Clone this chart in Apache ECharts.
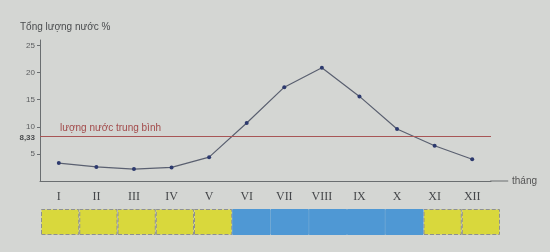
<!DOCTYPE html>
<html><head><meta charset="utf-8">
<script src="https://cdn.jsdelivr.net/npm/echarts@6/dist/echarts.min.js"></script>
<style>html,body{margin:0;padding:0;background:#d4d6d3}#c{width:550px;height:252px}</style>
</head><body><div id="c"></div>
<script>
var months = ['I','II','III','IV','V','VI','VII','VIII','IX','X','XI','XII'];
var waterPct = [3.3, 2.6, 2.2, 2.5, 4.4, 10.7, 17.3, 20.9, 15.6, 9.6, 6.5, 4.0];
var average = 8.33;
var yTickLabels = [5, 10, 15, 20, 25];
var seasonFlood = [0,0,0,0,0,1,1,1,1,1,0,0]; // 1 = mùa lũ (blue), 0 = mùa cạn (yellow)

var chart = echarts.init(document.getElementById('c'));
var bandData = seasonFlood.map(function(s){
  return {value:1, itemStyle: s
    ? {color:'#4f98d4', borderColor:'#4f98d4', borderWidth:1, borderType:'solid'}
    : {color:'#d9d83c', borderColor:'#8e9090', borderWidth:1, borderType:'dashed'}};
});
chart.setOption({
  backgroundColor:'#d4d6d3',
  animation:false,
  title:{text:'Tổng lượng nước %', left:15, top:17,
    textStyle:{fontFamily:'Liberation Sans', fontSize:10, fontWeight:'normal', color:'#4a4c4e'}},
  grid:[
    {left:40, right:59, top:40, bottom:71},
    {left:41, right:50, top:209, height:26}
  ],
  xAxis:[
    {type:'category', gridIndex:0, data:months, boundaryGap:true,
     name:'tháng', nameLocation:'end', nameGap:21,
     nameTextStyle:{fontFamily:'Liberation Sans', fontSize:10, color:'#555'},
     axisLine:{lineStyle:{color:'#6a6e70', width:1}},
     axisTick:{inside:true, length:3, lineStyle:{color:'#6a6e70'}},
     axisLabel:{margin:10, fontFamily:'Liberation Serif', fontSize:12, color:'#45474a'}},
    {type:'category', gridIndex:1, data:months, show:false}
  ],
  yAxis:[
    {type:'value', gridIndex:0, min:0, max:26,
     splitLine:{show:false},
     axisLine:{show:true, lineStyle:{color:'#6a6e70'}},
     axisTick:{show:true, length:3, customValues:yTickLabels, lineStyle:{color:'#6a6e70'}},
     axisLabel:{customValues:yTickLabels.concat([average]), margin:5, fontFamily:'Liberation Sans', fontSize:8, color:'#5a5c5e',
       formatter:function(v){ return v===average ? '{b|8,33}' : String(v); },
       rich:{b:{fontFamily:'Liberation Sans', fontSize:8, fontWeight:'bold', color:'#4a4c4e', padding:[4,0,0,0]}}}},
    {type:'value', gridIndex:1, min:0, max:1, show:false}
  ],
  series:[
    {type:'line', xAxisIndex:0, yAxisIndex:0, data:waterPct,
     symbol:'circle', symbolSize:4,
     lineStyle:{color:'#5a6070', width:1.2},
     itemStyle:{color:'#2d3a6e'},
     markLine:{silent:true, symbol:'none',
       lineStyle:{color:'#a85656', width:1, type:'solid'},
       label:{show:true, position:'insideStartTop', distance:[20,3], formatter:'lượng nước trung bình',
         fontFamily:'Liberation Sans', fontSize:10, color:'#a24a4a'},
       data:[{yAxis:average}]}},
    {type:'bar', xAxisIndex:1, yAxisIndex:1, data:bandData, barWidth:'100%', barGap:0}
  ]
});
var p0 = chart.convertToPixel({gridIndex:0}, [11, 0]);
chart.setOption({graphic:[{type:'line', shape:{x1:p0[0]+18, y1:p0[1], x2:p0[0]+36, y2:p0[1]},
  style:{stroke:'#6a6e70', lineWidth:1}}]});
</script></body></html>
